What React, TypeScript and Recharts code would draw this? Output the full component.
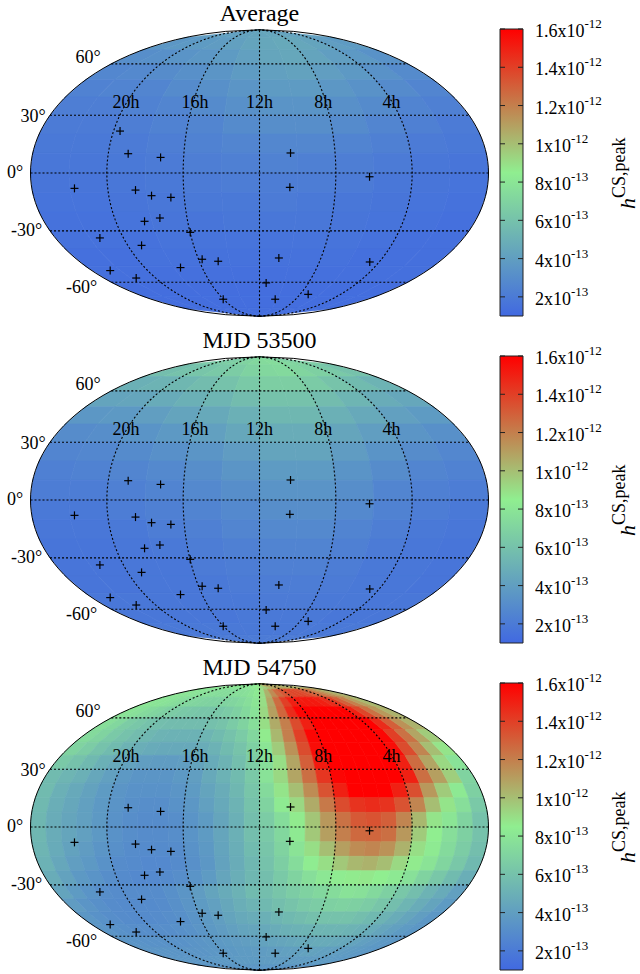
import { Bar, BarChart, Scatter, ScatterChart, XAxis, YAxis } from 'recharts'

// Values are in units of 1e-14.
const mapTitles = ['Average', 'MJD 53500', 'MJD 54750']

// 12 columns (30 deg), 18 rows (10 deg), north to south, left to right on the map
const averageGrid = [
  [40, 40, 41, 41, 42, 43, 44, 45, 44, 43, 42, 41],
  [36, 37, 38, 39, 41, 43, 45, 46, 45, 43, 40, 38],
  [31, 32, 34, 36, 38, 41, 44, 45, 43, 40, 37, 33],
  [27, 28, 30, 32, 35, 38, 41, 42, 40, 37, 33, 29],
  [24, 25, 26, 29, 32, 35, 38, 38, 36, 33, 29, 26],
  [22, 22, 24, 26, 29, 32, 34, 34, 32, 29, 25, 23],
  [20, 20, 22, 24, 26, 29, 31, 31, 29, 26, 23, 20],
  [19, 19, 20, 22, 24, 26, 27, 27, 25, 23, 20, 19],
  [18, 18, 19, 20, 22, 23, 24, 23, 22, 20, 18, 17],
  [17, 17, 18, 19, 20, 21, 21, 21, 20, 18, 17, 16],
  [16, 16, 17, 18, 19, 19, 20, 19, 18, 17, 16, 15],
  [15, 15, 16, 17, 17, 18, 18, 18, 17, 16, 15, 14],
  [15, 15, 15, 16, 16, 16, 16, 16, 16, 15, 14, 14],
  [14, 14, 15, 15, 15, 15, 15, 15, 15, 14, 14, 14],
  [14, 14, 14, 14, 14, 14, 14, 14, 14, 14, 14, 14],
  [13, 13, 13, 13, 13, 13, 13, 13, 13, 13, 13, 13],
  [13, 13, 13, 13, 13, 13, 13, 13, 13, 13, 13, 13],
  [13, 13, 13, 13, 13, 13, 13, 13, 13, 13, 13, 13],
]

const mjd53500Grid = [
  [64, 65, 66, 68, 70, 72, 74, 75, 73, 71, 69, 66],
  [58, 60, 62, 64, 66, 69, 72, 73, 71, 68, 64, 60],
  [50, 52, 54, 57, 60, 64, 67, 67, 65, 61, 56, 52],
  [43, 44, 47, 50, 53, 57, 60, 60, 57, 53, 48, 45],
  [36, 37, 40, 43, 46, 50, 54, 54, 50, 46, 41, 38],
  [30, 31, 34, 37, 41, 45, 48, 48, 44, 40, 35, 32],
  [26, 27, 29, 32, 35, 39, 43, 43, 39, 34, 30, 27],
  [23, 24, 26, 28, 31, 35, 38, 38, 34, 30, 26, 24],
  [21, 21, 23, 25, 28, 31, 34, 34, 31, 26, 23, 21],
  [19, 19, 21, 23, 25, 28, 31, 31, 28, 24, 21, 19],
  [18, 18, 19, 21, 23, 26, 28, 28, 25, 22, 19, 18],
  [17, 17, 18, 19, 21, 23, 25, 25, 23, 20, 18, 17],
  [17, 17, 18, 18, 20, 21, 23, 23, 21, 19, 18, 17],
  [17, 17, 18, 18, 19, 20, 21, 21, 20, 19, 18, 17],
  [18, 18, 18, 18, 19, 19, 20, 20, 19, 19, 18, 18],
  [18, 18, 18, 18, 18, 19, 19, 19, 19, 18, 18, 18],
  [19, 19, 19, 19, 19, 19, 19, 19, 19, 19, 19, 19],
  [20, 20, 20, 20, 20, 20, 20, 20, 20, 20, 20, 20],
]

// 30 columns (12 deg), 24 rows (7.5 deg)
const mjd54750Grid = [
  [80, 80, 80, 80, 80, 80, 80, 80, 80, 80, 80, 80, 82, 84, 86, 90, 94, 98, 102, 106, 108, 110, 110, 110, 108, 108, 106, 106, 104, 104],
  [80, 80, 79, 78, 77, 76, 76, 75, 75, 75, 76, 76, 77, 79, 82, 90, 104, 116, 126, 132, 136, 138, 138, 136, 132, 128, 122, 116, 110, 104],
  [80, 79, 78, 76, 74, 72, 71, 70, 69, 69, 70, 71, 73, 76, 80, 90, 108, 126, 140, 150, 152, 152, 152, 150, 146, 140, 130, 120, 110, 102],
  [79, 77, 74, 71, 68, 66, 64, 63, 62, 62, 63, 65, 68, 73, 78, 92, 110, 128, 146, 158, 165, 168, 168, 166, 160, 150, 138, 124, 112, 104],
  [76, 72, 66, 63, 60, 58, 57, 57, 57, 57, 59, 61, 65, 70, 76, 90, 106, 120, 136, 150, 160, 168, 172, 172, 168, 160, 146, 130, 114, 104],
  [74, 70, 64, 60, 57, 54, 52, 51, 51, 51, 53, 56, 60, 65, 72, 86, 102, 120, 140, 158, 170, 176, 178, 176, 170, 158, 140, 124, 108, 96],
  [70, 66, 60, 56, 52, 49, 47, 46, 46, 46, 48, 51, 56, 61, 68, 80, 96, 114, 136, 156, 170, 178, 180, 178, 170, 156, 136, 118, 100, 88],
  [64, 60, 55, 50, 46, 42, 40, 39, 39, 40, 43, 47, 52, 58, 66, 76, 90, 108, 130, 152, 168, 176, 178, 175, 165, 150, 126, 108, 92, 78],
  [56, 53, 50, 45, 41, 37, 35, 35, 35, 37, 40, 46, 51, 56, 64, 78, 92, 108, 125, 143, 158, 170, 172, 170, 162, 150, 125, 110, 95, 70],
  [56, 50, 46, 42, 38, 35, 33, 33, 33, 35, 38, 43, 48, 54, 62, 74, 88, 100, 116, 134, 150, 160, 162, 160, 150, 135, 112, 96, 82, 68],
  [55, 49, 45, 41, 37, 34, 32, 31, 31, 33, 36, 41, 46, 52, 60, 70, 83, 92, 106, 122, 136, 144, 146, 144, 134, 118, 100, 88, 76, 64],
  [54, 48, 44, 41, 37, 33, 31, 30, 30, 31, 34, 38, 44, 50, 58, 66, 75, 86, 98, 112, 124, 132, 134, 130, 118, 102, 88, 80, 70, 60],
  [54, 48, 44, 41, 37, 33, 31, 30, 30, 31, 34, 38, 44, 50, 58, 64, 72, 83, 97, 110, 120, 127, 128, 125, 112, 96, 85, 76, 68, 60],
  [53, 47, 42, 39, 35, 32, 30, 29, 29, 30, 33, 37, 43, 49, 56, 62, 70, 79, 90, 100, 110, 116, 118, 114, 104, 90, 83, 74, 66, 58],
  [51, 45, 40, 37, 33, 30, 29, 28, 28, 29, 32, 36, 42, 48, 54, 60, 67, 75, 84, 90, 97, 102, 104, 100, 92, 86, 79, 71, 63, 55],
  [48, 42, 37, 34, 31, 29, 28, 28, 29, 31, 34, 38, 44, 49, 54, 58, 64, 70, 76, 81, 84, 86, 87, 85, 82, 77, 70, 63, 56, 49],
  [43, 38, 34, 31, 30, 30, 30, 30, 32, 35, 39, 43, 47, 51, 56, 58, 62, 66, 69, 72, 75, 78, 77, 73, 68, 63, 58, 52, 47, 41],
  [39, 35, 32, 30, 29, 29, 29, 30, 32, 35, 38, 41, 45, 49, 52, 55, 58, 61, 64, 66, 68, 69, 68, 66, 62, 58, 53, 48, 43, 38],
  [36, 33, 31, 30, 29, 29, 30, 31, 32, 34, 37, 40, 43, 46, 48, 50, 53, 55, 57, 59, 60, 60, 60, 58, 55, 52, 48, 44, 40, 36],
  [35, 33, 32, 31, 31, 31, 31, 32, 33, 35, 37, 39, 41, 43, 44, 46, 48, 50, 51, 52, 53, 53, 53, 52, 50, 47, 44, 41, 38, 36],
  [35, 34, 33, 33, 33, 33, 33, 34, 35, 36, 37, 38, 39, 40, 41, 42, 43, 44, 45, 46, 46, 47, 47, 46, 45, 43, 41, 39, 37, 36],
  [35, 35, 35, 35, 35, 35, 35, 35, 36, 36, 37, 37, 38, 38, 39, 39, 40, 40, 41, 41, 41, 42, 42, 41, 41, 40, 39, 38, 37, 36],
  [36, 36, 36, 36, 36, 36, 36, 37, 37, 37, 37, 38, 38, 38, 38, 39, 39, 39, 39, 39, 39, 39, 39, 39, 39, 38, 38, 38, 37, 37],
  [36, 36, 36, 36, 36, 36, 36, 36, 36, 36, 36, 36, 36, 36, 36, 36, 36, 36, 36, 36, 36, 36, 36, 36, 36, 36, 36, 36, 36, 36],
]

const mapGrids = [averageGrid, mjd53500Grid, mjd54750Grid]

// pulsars, in the projected plane of the map (x -2..2, y -1..1)
const pulsarX = [-1.218, -1.147, -0.864, 0.271, 0.961, 0.265, -1.616, -1.083, -0.943, -0.774, -0.87, -1.004, -0.605, -1.394, -1.03, 0.169, -0.501, -0.361, 0.963, -0.69, -1.304, -1.077, 0.058, 0.425, -0.317, 0.137]
const pulsarY = [0.293, 0.135, 0.109, 0.14, -0.026, -0.1, -0.107, -0.119, -0.158, -0.17, -0.314, -0.337, -0.414, -0.453, -0.505, -0.593, -0.602, -0.616, -0.621, -0.66, -0.681, -0.733, -0.767, -0.847, -0.881, -0.881]
const pulsarsMissing = [[], [0], [0, 18]]

const raLabels = ['20h', '16h', '12h', '8h', '4h']
const raLabelX = [-1.166, -0.563, 0, 0.556, 1.153]
const decLabels = ['60°', '30°', '0°', '-30°', '-60°']
const decLabelX = [-1.387, -1.867, -2.063, -1.897, -1.417]
const decLabelY = [0.766, 0.359, -0.036, -0.443, -0.839]

const barTicks = [20, 40, 60, 80, 100, 120, 140, 160]
const barMantissa = ['2', '4', '6', '8', '1', '1.2', '1.4', '1.6']
const barExponent = ['-13', '-13', '-13', '-13', '-12', '-12', '-12', '-12']

const parallels = [60, 30, 0, -30, -60]
const meridians = [-120, -60, 0, 60, 120]

const SERIF = '"Liberation Serif", serif'
const CHART_W = 500
const CHART_H = 329
const X_DOMAIN = [-2.2664, 2.1004]
const Y_DOMAIN = [-1.047, 1.25]
const SX = CHART_W / (X_DOMAIN[1] - X_DOMAIN[0])
const SY = CHART_H / (Y_DOMAIN[1] - Y_DOMAIN[0])

const mapTops = [-5.7, 320.7, 647.5]
const barTops = [9, 336, 662.7]

function project(lon, lat) {
  const target = Math.PI * Math.sin((lat * Math.PI) / 180)
  let lo = -Math.PI / 2
  let hi = Math.PI / 2
  for (let i = 0; i < 40; i++) {
    const t = (lo + hi) / 2
    if (2 * t + Math.sin(2 * t) < target) lo = t
    else hi = t
  }
  const theta = (lo + hi) / 2
  return { x: 2 * (lon / 180) * Math.cos(theta), y: Math.sin(theta) }
}

function heatColor(v) {
  const t = Math.min(1, Math.max(0, (v - 10) / 150))
  const mix = (a, b, k) => Math.round(a + (b - a) * k)
  if (t < 0.5) {
    const k = t * 2
    return `rgb(${mix(65, 144, k)},${mix(105, 238, k)},${mix(225, 144, k)})`
  }
  const k = (t - 0.5) * 2
  return `rgb(${mix(144, 255, k)},${mix(238, 0, k)},${mix(144, 0, k)})`
}

function buildCells(grid) {
  const rows = grid.length
  const cols = grid[0].length
  const cells = []
  grid.forEach((row, r) => {
    const latTop = 90 - (r * 180) / rows
    const latBot = 90 - ((r + 1) * 180) / rows
    row.forEach((value, c) => {
      const lonLeft = -180 + (c * 360) / cols
      const lonRight = -180 + ((c + 1) * 360) / cols
      const centre = project((lonLeft + lonRight) / 2, (latTop + latBot) / 2)
      cells.push({
        x: centre.x,
        y: centre.y,
        value,
        corners: [
          project(lonLeft, latTop),
          project(lonRight, latTop),
          project(lonRight, latBot),
          project(lonLeft, latBot),
        ],
      })
    })
  })
  return cells
}

function latRange() {
  const out = []
  for (let lat = -90; lat <= 90; lat += 3) out.push(lat)
  return out
}

const rimLine = [
  ...latRange().map((lat) => project(180, lat)),
  ...latRange().reverse().map((lat) => project(-180, lat)),
]
const meridianLines = meridians.map((lon) => latRange().map((lat) => project(lon, lat)))
const parallelLines = parallels.map((lat) => [project(-180, lat), project(180, lat)])

const CellShape = (props) => {
  const { cx, cy, payload } = props
  const points = payload.corners
    .map((p) => `${cx + (p.x - payload.x) * SX},${cy - (p.y - payload.y) * SY}`)
    .join(' ')
  const fill = heatColor(payload.value)
  return <polygon points={points} fill={fill} stroke={fill} strokeWidth={0.7} />
}

const PlusShape = (props) => {
  const { cx, cy } = props
  return (
    <g stroke="#000" strokeWidth={1.2}>
      <line x1={cx - 4} x2={cx + 4} y1={cy} y2={cy} />
      <line x1={cx} x2={cx} y1={cy - 4} y2={cy + 4} />
    </g>
  )
}

const TextShape = (props) => {
  const { cx, cy, payload } = props
  return (
    <text x={cx} y={cy} textAnchor={payload.anchor} fontSize={payload.size} fontFamily={SERIF} fill="#000">
      {payload.label}
    </text>
  )
}

const NoPoint = () => <g />

function SkyMap({ index }) {
  const cells = buildCells(mapGrids[index])
  const pulsars = pulsarX
    .map((x, i) => ({ x, y: pulsarY[i], i }))
    .filter((p) => !pulsarsMissing[index].includes(p.i))
  const texts = [
    { x: 0, y: 1.06, label: mapTitles[index], anchor: 'middle', size: 24 },
    ...raLabels.map((label, i) => ({ x: raLabelX[i], y: 0.455, label, anchor: 'middle', size: 18 })),
    ...decLabels.map((label, i) => ({ x: decLabelX[i], y: decLabelY[i], label, anchor: 'end', size: 18 })),
  ]
  const dotted = { stroke: '#000', strokeWidth: 1.1, strokeDasharray: '2 2' }
  return (
    <ScatterChart width={CHART_W} height={CHART_H} margin={{ top: 0, right: 0, bottom: 0, left: 0 }}>
      <XAxis type="number" dataKey="x" domain={X_DOMAIN} hide />
      <YAxis type="number" dataKey="y" domain={Y_DOMAIN} hide />
      <Scatter data={cells} shape={CellShape} isAnimationActive={false} />
      {parallelLines.map((d, i) => (
        <Scatter key={`p${i}`} data={d} line={dotted} shape={NoPoint} isAnimationActive={false} />
      ))}
      {meridianLines.map((d, i) => (
        <Scatter key={`m${i}`} data={d} line={dotted} shape={NoPoint} isAnimationActive={false} />
      ))}
      <Scatter data={rimLine} line={{ stroke: '#000', strokeWidth: 1 }} shape={NoPoint} isAnimationActive={false} />
      <Scatter data={pulsars} shape={PlusShape} isAnimationActive={false} />
      <Scatter data={texts} shape={TextShape} isAnimationActive={false} />
    </ScatterChart>
  )
}

const BarTick = (props) => {
  const { x, y, payload } = props
  const i = barTicks.indexOf(payload.value)
  return (
    <g>
      <line x1={x - 23} x2={x - 18} y1={y} y2={y} stroke="#222" />
      <line x1={x - 5} x2={x} y1={y} y2={y} stroke="#222" />
      <text x={x + 12} y={y + 8} fontSize={18} fontFamily={SERIF} fill="#000">
        <tspan>{barMantissa[i]}x10</tspan>
        <tspan dy={-9} fontSize={13}>
          {barExponent[i]}
        </tspan>
      </text>
    </g>
  )
}

function ColorBar({ index }) {
  const gradientId = `bar-gradient-${index}`
  const labelX = 145
  const labelY = 200
  return (
    <BarChart
      width={150}
      height={317}
      data={[{ name: 'h', peak: 160 }]}
      margin={{ top: 20, right: 0, bottom: 10, left: 10 }}
      barCategoryGap={0}
    >
      <defs>
        <linearGradient id={gradientId} x1="0" y1="1" x2="0" y2="0">
          <stop offset="0" stopColor="#4169E1" />
          <stop offset="0.5" stopColor="#90EE90" />
          <stop offset="1" stopColor="#FF0000" />
        </linearGradient>
      </defs>
      <XAxis dataKey="name" type="category" hide />
      <YAxis
        orientation="right"
        type="number"
        domain={[10, 160]}
        ticks={barTicks}
        interval={0}
        width={117}
        axisLine={false}
        tickLine={false}
        tickSize={0}
        tickMargin={0}
        tick={BarTick}
      />
      <Bar dataKey="peak" fill={`url(#${gradientId})`} stroke="#222" strokeWidth={1} isAnimationActive={false} />
      <text
        transform={`rotate(-90 ${labelX} ${labelY})`}
        x={labelX}
        y={labelY}
        fontFamily={SERIF}
        fill="#000"
      >
        <tspan fontSize={22} fontStyle="italic">
          h
        </tspan>
        <tspan fontSize={18} dy={-10}>
          CS,peak
        </tspan>
      </text>
    </BarChart>
  )
}

export default function App() {
  return (
    <div style={{ position: 'absolute', left: 0, top: 0, width: 640, height: 974, background: '#fff', overflow: 'hidden' }}>
      {mapTitles.map((title, i) => (
        <div key={title}>
          <div style={{ position: 'absolute', left: 0, top: mapTops[i] }}>
            <SkyMap index={i} />
          </div>
          <div style={{ position: 'absolute', left: 490, top: barTops[i] }}>
            <ColorBar index={i} />
          </div>
        </div>
      ))}
    </div>
  )
}
